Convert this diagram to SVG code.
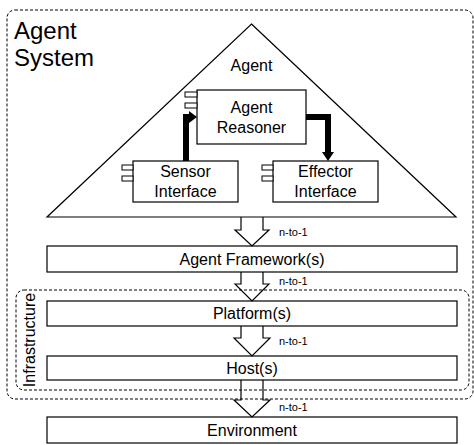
<svg xmlns="http://www.w3.org/2000/svg" width="474" height="445" viewBox="0 0 474 445">
  <style>
    text { font-family: "Liberation Sans", Arial, sans-serif; fill: #000; }
    .lbl { font-size: 16px; text-anchor: middle; }
    .title { font-size: 24px; }
    .small { font-size: 11px; }
    .box { fill: #fff; stroke: #000; stroke-width: 1.2; }
    .tab { fill: #fff; stroke: #000; stroke-width: 1; }
    .dash { fill: none; stroke: #000; stroke-width: 1; stroke-dasharray: 3 2; }
    .open { fill: none; stroke: #000; stroke-width: 1.2; stroke-linejoin: miter; }
    .thick { fill: none; stroke: #000; stroke-width: 6; }
    .solid { fill: #000; stroke: none; }
  </style>
  <rect width="474" height="445" fill="#fff"/>

  <!-- containers -->
  <g id="agent-system">
    <rect class="dash" x="7" y="10" width="466" height="389" rx="8"/>
    <text class="title" x="14" y="39">Agent</text>
    <text class="title" x="14" y="66">System</text>
  </g>
  <g id="infrastructure">
    <rect class="dash" x="16" y="290" width="453" height="100" rx="8"/>
    <text class="lbl" transform="translate(35,340) rotate(-90)">Infrastructure</text>
  </g>

  <!-- agent -->
  <g id="agent">
    <path class="box" d="M251.5,24 L456,217 L47,217 Z"/>
    <text class="lbl" x="251.5" y="71">Agent</text>
  </g>
  <g id="agent-reasoner">
    <rect class="box" x="197" y="90" width="109" height="54"/>
    <rect class="tab" x="185" y="92" width="12" height="5"/>
    <rect class="tab" x="185" y="103" width="12" height="5"/>
    <text class="lbl" x="251.5" y="113">Agent</text>
    <text class="lbl" x="251.5" y="133">Reasoner</text>
  </g>
  <g id="sensor-interface">
    <rect class="box" x="133" y="161" width="105" height="41"/>
    <rect class="tab" x="122" y="165" width="11" height="5"/>
    <rect class="tab" x="122" y="176" width="11" height="5"/>
    <text class="lbl" x="185.5" y="177">Sensor</text>
    <text class="lbl" x="185.5" y="197">Interface</text>
  </g>
  <g id="effector-interface">
    <rect class="box" x="273" y="161" width="105" height="41"/>
    <rect class="tab" x="262" y="165" width="11" height="5"/>
    <rect class="tab" x="262" y="176" width="11" height="5"/>
    <text class="lbl" x="325.5" y="177">Effector</text>
    <text class="lbl" x="325.5" y="197">Interface</text>
  </g>

  <!-- layers -->
  <g id="agent-framework">
    <rect class="box" x="47" y="246" width="410" height="26"/>
    <text class="lbl" x="252" y="265">Agent Framework(s)</text>
  </g>
  <g id="platform">
    <rect class="box" x="47" y="301" width="410" height="25"/>
    <text class="lbl" x="252" y="319">Platform(s)</text>
  </g>
  <g id="host">
    <rect class="box" x="47" y="356" width="410" height="24"/>
    <text class="lbl" x="252" y="374">Host(s)</text>
  </g>
  <g id="environment">
    <rect class="box" x="47" y="417" width="410" height="26"/>
    <text class="lbl" x="252" y="436">Environment</text>
  </g>

  <!-- connectors -->
  <g id="connectors">
    <!-- sensor to reasoner -->
    <path class="thick" d="M186,161 V117 H190"/>
    <polygon class="solid" points="189,111 197,117 189,123"/>
    <!-- reasoner to effector -->
    <path class="thick" d="M306,117 H328 V153"/>
    <polygon class="solid" points="322,152 334,152 328,161"/>

    <path class="open" d="M241,217 V230 H235 L252,246 L269,230 H263 V217"/>
    <path class="open" d="M241,272 V284 H235 L252,301 L269,284 H263 V272"/>
    <path class="open" d="M241,326 V338 H234 L252,356 L270,338 H263 V326"/>
    <path class="open" d="M241,380 V400 H234 L252,417 L270,400 H263 V380"/>

    <text class="small" x="279" y="236">n-to-1</text>
    <text class="small" x="279" y="285">n-to-1</text>
    <text class="small" x="279" y="345">n-to-1</text>
    <text class="small" x="279" y="411">n-to-1</text>
  </g>
</svg>
